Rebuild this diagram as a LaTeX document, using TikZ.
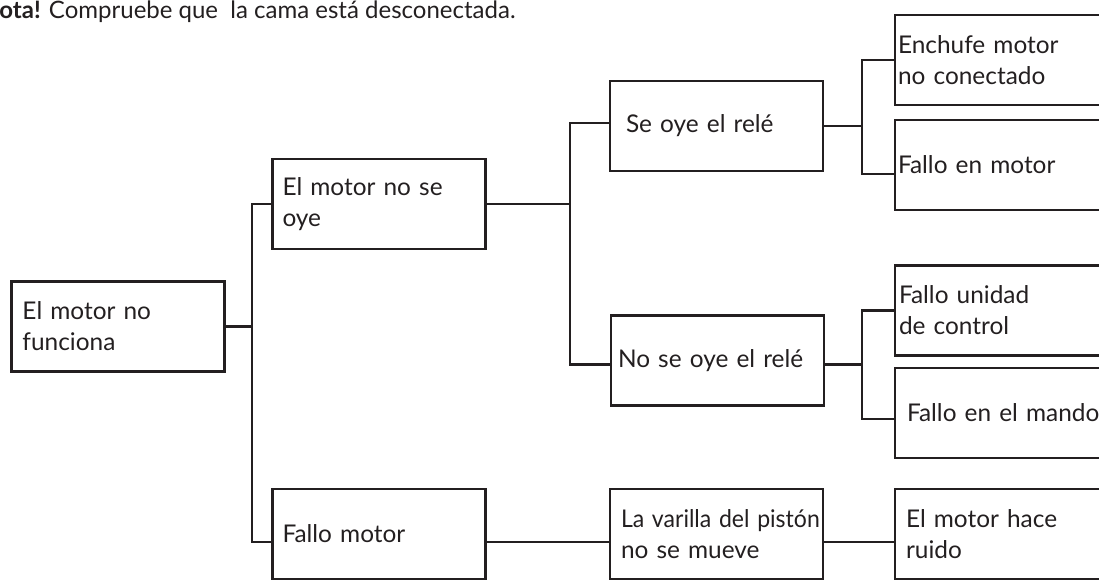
\documentclass[tikz,border=0pt]{standalone}
\usepackage{fontspec}
\setmainfont{Lato}
\definecolor{ink}{HTML}{231F20}

\begin{document}
\begin{tikzpicture}[
    x=0.5pt, y=-0.5pt,
    box/.style={draw=ink, line width=1.4pt, text=ink, minimum height=45pt,
                text width=104.5pt, inner xsep=1pt, align=left,
                execute at begin node={\leftskip=#1},
                font=\fontsize{12.2}{15.5}\selectfont},
    box/.default=4.5pt,
    link/.style={draw=ink, line width=1.4pt},
    notelbl/.style={anchor=base west, inner sep=0pt, text=ink,
                    font=\fontsize{12}{14}\selectfont}
  ]
  \useasboundingbox (0,0) rectangle (1099,579);
  \clip (0,0) rectangle (1099,579);

  % Note on top (cut at the left edge)
  \node[notelbl] (nota) at (-1,18)
    {\textbf{ota!} Compruebe que\ \ la cama está desconectada.};

  % Level 0 and 1
  \node[box] (nofunc) at (118,326.5) {El motor no\\funciona};
  \node[box=4pt] (nooye)  at (379,204)   {El motor no se\\oye};
  \node[box=4pt] (fmotor) at (379,534) {Fallo motor};

  % Level 2
  \node[box=7pt] (seoye) at (716.5,126) {Se oye el relé};
  \node[box=2.5pt] (norele) at (717.5,360.5) {No se oye el relé};
  \node[box] (varilla) at (716.5,534)
    {\scalebox{0.945}[1]{La varilla del pistón}\\no se mueve};

  % Level 3
  \node[box=0.5pt] (enchufe) at (1001.5,60) {Enchufe motor\\no conectado};
  \node[box=0.5pt] (fallomot) at (1001.5,165) {Fallo en motor};
  \node[box=1pt] (unidad) at (1001.5,310.5) {Fallo unidad\\de control};
  \node[box=5pt] (mando) at (1001.5,413) {\mbox{Fallo en el mando}};
  \node[box] (ruido) at (1001.5,534) {El motor hace\\ruido};

  % Junctions
  \coordinate (j1) at (252,326.5);
  \coordinate (j2) at (570,204);
  \coordinate (j3) at (862,126);
  \coordinate (j4) at (862,364.5);

  % Connectors
  \path[link] (nofunc.east) -- (j1);
  \path[link] (nooye.west) -| (j1) |- ([yshift=-4pt]fmotor.west);
  \path[link] (nooye.east) -- (j2);
  \path[link] ([yshift=1.5pt]seoye.west) -| (j2) |- ([yshift=-2pt]norele.west);
  \path[link] (seoye.east) -- (j3);
  \path[link] (enchufe.west) -| (j3) |- ([yshift=-4.5pt]fallomot.west);
  \path[link] ([yshift=-2pt]norele.east) -- (j4);
  \path[link] (unidad.west) -| (j4) |- ([yshift=-3pt]mando.west);
  \path[link] ([yshift=-4pt]fmotor.east) -- ([yshift=-4pt]varilla.west);
  \path[link] ([yshift=-4pt]varilla.east) -- ([yshift=-4pt]ruido.west);
\end{tikzpicture}
\end{document}
